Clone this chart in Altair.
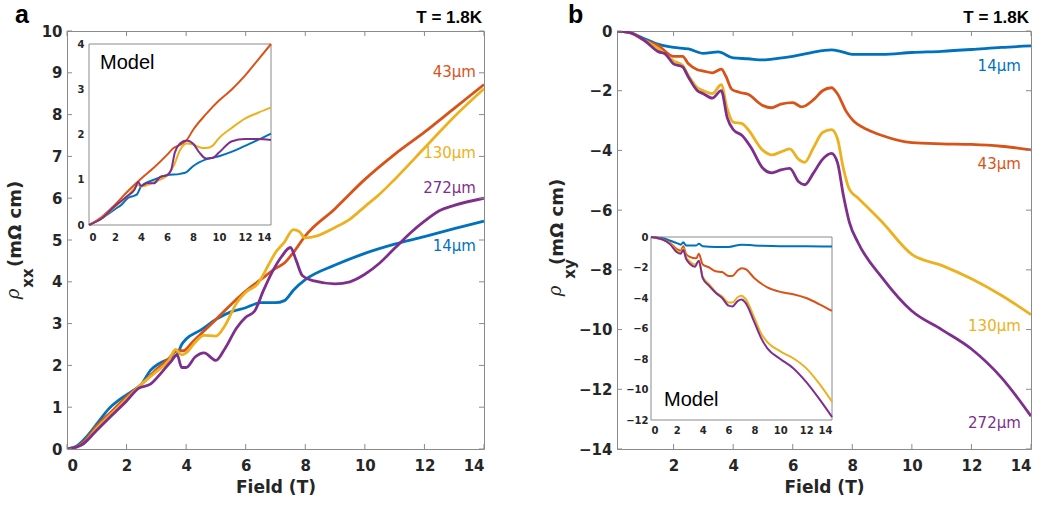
import altair as alt
import pandas as pd

SERIES = ["14μm", "43μm", "130μm", "272μm"]
COLORS = ["#0072BD", "#D95319", "#EDB120", "#7E2F8E"]
FRAME = "#8a8a8a"
TXT = "#262626"

# ---------------- panel a : measured rho_xx (mOhm cm) vs field (T)
a14_x = [0, 0.3, 0.6, 1.0, 1.4, 1.8, 2.2, 2.5, 2.8, 3.1, 3.4, 3.7, 3.85, 4.0, 4.5, 5.0, 5.5, 6.0, 6.5, 7.0, 7.3, 7.6, 8.0, 9.0, 10.0, 11.0, 12.0, 13.0, 14.0]
a14_y = [0, 0.06, 0.25, 0.6, 0.96, 1.2, 1.39, 1.55, 1.88, 2.05, 2.15, 2.27, 2.5, 2.63, 2.85, 3.1, 3.28, 3.38, 3.5, 3.5, 3.55, 3.8, 4.05, 4.4, 4.68, 4.9, 5.08, 5.27, 5.45]
a43_x = [0, 0.3, 0.6, 1.0, 1.5, 2.0, 2.5, 3.0, 3.4, 3.7, 3.9, 4.2, 5.0, 6.0, 6.5, 7.0, 7.3, 7.6, 8.0, 9.0, 10.0, 11.0, 12.0, 13.0, 14.0]
a43_y = [0, 0.04, 0.2, 0.55, 0.9, 1.25, 1.55, 1.9, 2.15, 2.35, 2.35, 2.55, 3.1, 3.78, 4.05, 4.32, 4.45, 4.7, 5.1, 5.75, 6.45, 7.05, 7.58, 8.15, 8.72]
a130_x = [0, 0.5, 1.0, 1.5, 2.0, 2.5, 3.0, 3.4, 3.65, 3.85, 4.0, 4.3, 4.6, 5.0, 5.3, 5.7, 6.0, 6.4, 6.8, 7.0, 7.3, 7.6, 7.8, 8.0, 8.4, 9.0, 9.5, 10.0, 10.5, 11.0, 12.0, 13.0, 14.0]
a130_y = [0, 0.1, 0.5, 0.85, 1.2, 1.55, 1.85, 2.1, 2.38, 2.25, 2.3, 2.55, 2.72, 2.7, 2.95, 3.5, 3.75, 3.95, 4.45, 4.7, 4.95, 5.25, 5.2, 5.05, 5.1, 5.3, 5.5, 5.8, 6.1, 6.45, 7.2, 7.95, 8.62]
a272_x = [0, 0.5, 1.0, 1.5, 2.0, 2.4, 2.8, 3.2, 3.5, 3.7, 3.85, 4.0, 4.3, 4.6, 5.0, 5.3, 5.7, 6.0, 6.3, 6.6, 6.9, 7.2, 7.5, 7.7, 7.9, 8.3, 9.0, 9.5, 10.0, 10.5, 11.0, 11.5, 12.0, 12.5, 13.0, 14.0]
a272_y = [0, 0.1, 0.45, 0.8, 1.15, 1.45, 1.55, 1.85, 2.1, 2.25, 1.95, 1.95, 2.2, 2.3, 2.12, 2.4, 2.9, 3.15, 3.3, 3.8, 4.25, 4.6, 4.82, 4.5, 4.15, 4.02, 3.95, 4.0, 4.18, 4.45, 4.8, 5.15, 5.45, 5.7, 5.83, 6.0]

# ---------------- panel a inset : model rho_xx
ia14_x = [0, 1, 2, 2.5, 3, 3.5, 3.7, 4, 5, 6, 7, 7.5, 8, 9, 10, 11, 12, 13, 14]
ia14_y = [0, 0.15, 0.35, 0.45, 0.6, 0.65, 0.68, 0.85, 1.0, 1.1, 1.13, 1.17, 1.3, 1.45, 1.52, 1.62, 1.75, 1.88, 2.02]
ia43_x = [0, 1, 2, 3, 4, 5, 6, 6.5, 7, 7.5, 8, 9, 10, 11, 12, 13, 14]
ia43_y = [0, 0.18, 0.45, 0.75, 1.02, 1.27, 1.55, 1.7, 1.77, 1.87, 2.1, 2.45, 2.75, 3.0, 3.3, 3.65, 4.0]
ia130_x = [0, 1, 2, 3, 3.8, 4, 5, 6, 6.5, 7, 7.5, 8, 8.5, 9, 9.5, 10, 11, 12, 13, 14]
ia130_y = [0, 0.15, 0.4, 0.65, 0.88, 0.85, 0.95, 1.1, 1.3, 1.65, 1.8, 1.78, 1.72, 1.7, 1.75, 1.92, 2.15, 2.35, 2.48, 2.6]
ia272_x = [0, 1, 2, 3, 3.5, 3.8, 4, 4.5, 5, 5.5, 6, 6.3, 6.6, 7, 7.5, 8, 8.5, 9, 9.5, 10, 11, 12, 13, 14]
ia272_y = [0, 0.15, 0.42, 0.65, 0.78, 0.95, 0.86, 0.93, 0.92, 1.07, 1.1, 1.2, 1.6, 1.8, 1.87, 1.8, 1.6, 1.47, 1.48, 1.6, 1.85, 1.9, 1.9, 1.88]

# ---------------- panel b : measured rho_xy
b14_x = [0, 0.5, 1.0, 1.5, 2.0, 2.5, 3.0, 3.5, 4.0, 4.5, 5.0, 5.5, 6.0, 6.5, 7.0, 7.3, 7.6, 8.0, 9.0, 10.0, 11.0, 12.0, 13.0, 14.0]
b14_y = [0, -0.05, -0.25, -0.45, -0.55, -0.6, -0.75, -0.7, -0.9, -0.93, -0.97, -0.92, -0.85, -0.75, -0.66, -0.63, -0.68, -0.78, -0.78, -0.72, -0.68, -0.62, -0.55, -0.5]
b43_x = [0, 0.5, 1.0, 1.5, 2.0, 2.3, 2.5, 2.8, 3.0, 3.3, 3.6, 3.75, 3.95, 4.2, 4.5, 5.0, 5.3, 5.6, 6.0, 6.3, 6.7, 7.0, 7.3, 7.5, 7.8, 8.0, 8.5, 9.0, 10.0, 11.0, 12.0, 13.0, 14.0]
b43_y = [0, -0.05, -0.3, -0.5, -0.85, -0.85, -1.1, -1.3, -1.34, -1.4, -1.28, -1.5, -1.95, -2.05, -2.12, -2.5, -2.57, -2.45, -2.4, -2.54, -2.3, -2.0, -1.9, -2.1, -2.7, -2.97, -3.3, -3.5, -3.74, -3.78, -3.8, -3.86, -3.98]
b130_x = [0, 0.5, 1.0, 1.5, 2.0, 2.3, 2.5, 2.8, 3.0, 3.3, 3.6, 3.8, 4.0, 4.3, 4.5, 5.0, 5.3, 5.6, 5.9, 6.2, 6.4, 6.7, 7.0, 7.3, 7.5, 7.7, 7.9, 8.2, 9.0, 10.0, 11.0, 12.0, 13.0, 14.0]
b130_y = [0, -0.05, -0.3, -0.6, -1.0, -1.15, -1.5, -1.9, -2.0, -2.1, -1.8, -2.6, -3.05, -3.1, -3.3, -4.0, -4.15, -4.05, -3.95, -4.3, -4.4, -3.9, -3.4, -3.3, -3.6, -4.6, -5.3, -5.6, -6.4, -7.48, -7.85, -8.3, -8.85, -9.5]
b272_x = [0, 0.5, 1.0, 1.5, 1.7, 2.0, 2.3, 2.5, 2.8, 3.0, 3.3, 3.6, 3.8, 4.0, 4.3, 4.6, 5.0, 5.3, 5.6, 5.9, 6.2, 6.4, 6.7, 7.0, 7.3, 7.5, 7.7, 7.9, 8.2, 9.0, 10.0, 11.0, 12.0, 13.0, 14.0]
b272_y = [0, -0.05, -0.3, -0.7, -0.75, -1.1, -1.2, -1.55, -2.0, -2.1, -2.25, -2.0, -2.9, -3.3, -3.5, -3.9, -4.6, -4.75, -4.65, -4.6, -5.05, -5.15, -4.75, -4.3, -4.1, -4.4, -5.5, -6.4, -7.1, -8.26, -9.38, -10.0, -10.65, -11.6, -12.9]

# ---------------- panel b inset : model rho_xy
ib14_x = [0, 1, 1.5, 2, 2.3, 2.5, 2.7, 3.5, 3.7, 4, 5, 6, 7, 8, 10, 12, 14]
ib14_y = [0, -0.1, -0.25, -0.4, -0.5, -0.35, -0.55, -0.55, -0.45, -0.6, -0.65, -0.65, -0.5, -0.55, -0.6, -0.6, -0.62]
ib43_x = [0, 1, 1.5, 2, 2.3, 2.5, 2.7, 3, 3.5, 3.7, 4, 4.5, 5, 5.5, 6, 6.3, 6.7, 7, 7.3, 8, 9, 10, 11, 12, 13, 14]
ib43_y = [0, -0.2, -0.4, -0.8, -0.9, -0.6, -1.1, -1.3, -1.4, -1.1, -1.8, -2.0, -2.25, -2.3, -2.55, -2.55, -2.2, -2.05, -2.1, -2.7, -3.3, -3.6, -3.75, -4.0, -4.4, -4.85]
ib130_x = [0, 1, 1.5, 2, 2.3, 2.5, 2.7, 3, 3.4, 3.7, 4, 4.5, 5, 5.5, 6, 6.3, 6.7, 7, 7.3, 8, 8.5, 9, 10, 11, 12, 13, 14]
ib130_y = [0, -0.2, -0.45, -0.9, -1.0, -0.75, -1.3, -1.6, -1.8, -1.6, -2.6, -3.1, -3.6, -3.9, -4.3, -4.3, -3.95, -3.85, -4.05, -5.3, -6.3, -6.9, -7.5, -7.95, -8.6, -9.6, -10.8]
ib272_x = [0, 1, 1.5, 2, 2.3, 2.5, 2.7, 3, 3.4, 3.7, 4, 4.5, 5, 5.5, 6, 6.3, 6.7, 7, 7.3, 8, 8.5, 9, 10, 11, 12, 13, 14]
ib272_y = [0, -0.2, -0.5, -1.0, -1.1, -0.85, -1.4, -1.75, -1.95, -1.55, -2.7, -3.2, -3.65, -4.0, -4.5, -4.55, -4.2, -4.1, -4.3, -5.6, -6.6, -7.3, -8.0, -8.6, -9.5, -10.6, -11.8]

# series name labels (data units of each main panel)
a_lab_x = [13.73, 13.73, 13.73, 13.73]
a_lab_y = [4.74, 8.9, 6.96, 6.12]
b_lab_x = [13.66, 13.66, 13.66, 13.66]
b_lab_y = [-1.34, -4.62, -10.05, -13.3]

A_XTICKS = [0, 2, 4, 6, 8, 10, 12, 14]
A_YTICKS = list(range(0, 11))
B_XTICKS = [2, 4, 6, 8, 10, 12, 14]
B_YTICKS = [0, -2, -4, -6, -8, -10, -12, -14]
I_XTICKS = [0, 2, 4, 6, 8, 10, 12, 14]
IA_YTICKS = [0, 1, 2, 3, 4]
IB_YTICKS = [0, -2, -4, -6, -8, -10, -12]


def long(pairs):
    rows = []
    for name, (xs, ys) in zip(SERIES, pairs):
        for x, y in zip(xs, ys):
            rows.append({"F": x, "v": y, "s": name})
    return pd.DataFrame(rows)


COLOR = alt.Color("s:N", scale=alt.Scale(domain=SERIES, range=COLORS), legend=None)
AX_STYLE = dict(labelFont="DejaVu Sans", labelFontWeight="bold", labelColor=TXT,
                titleFont="DejaVu Sans", titleFontWeight="bold", titleFontSize=17,
                titleColor=TXT, ticks=False, domain=False, grid=False)


def ann(text, x, y, size, weight="normal", align="left", font="DejaVu Sans",
        angle=0, style="normal", color=TXT):
    return alt.Chart(pd.DataFrame({"t": [text]})).mark_text(
        align=align, baseline="alphabetic", fontSize=size, fontWeight=weight,
        font=font, angle=angle, fontStyle=style, color=color
    ).encode(x=alt.value(x), y=alt.value(y), text="t:N")


# centres (along the vertical) of the rotated y-title pieces: rho, subscript, units
YT_CENTRES = {"a": (263, 247, 193), "b": (260, 238, 191)}


def panel(W, H, xdom, ydom, xticks, yticks, lines_df, lab_df, letter, sub,
          B, inset_df, ixrange, iyrange, iydom, iyticks, model_xy, ilabpad):
    xs = alt.Scale(domain=xdom, nice=False, zero=False)
    ys = alt.Scale(domain=ydom, nice=False, zero=False)
    XA = alt.Axis(values=xticks, title="Field (T)", orient="bottom", labelPadding=9,
                  titlePadding=6, labelFontSize=15, **AX_STYLE)
    YA = alt.Axis(values=yticks, title=None, orient="left", labelPadding=5,
                  labelFontSize=15, **AX_STYLE)
    X = alt.X("F:Q", scale=xs, axis=XA)
    Y = alt.Y("v:Q", scale=ys, axis=YA)
    lines = alt.Chart(lines_df).mark_line(
        strokeWidth=2.8, interpolate="monotone", clip=True
    ).encode(x=X, y=Y, color=COLOR)
    xt = pd.DataFrame({"F": xticks})
    yt = pd.DataFrame({"v": yticks})
    tb = alt.Chart(xt).mark_rule(color=FRAME).encode(x=X, y=alt.value(H), y2=alt.value(H - 5))
    tt = alt.Chart(xt).mark_rule(color=FRAME).encode(x=X, y=alt.value(0), y2=alt.value(5))
    tl = alt.Chart(yt).mark_rule(color=FRAME).encode(y=Y, x=alt.value(0), x2=alt.value(5))
    tr = alt.Chart(yt).mark_rule(color=FRAME).encode(y=Y, x=alt.value(W), x2=alt.value(W - 5))
    labels = alt.Chart(lab_df).mark_text(
        align="right", baseline="alphabetic", fontSize=15, font="DejaVu Sans"
    ).encode(x=X, y=Y, text="s:N", color=COLOR)
    yc = YT_CENTRES[letter]
    notes = [
        ann(letter, -52 if letter == "a" else -49, -8, 25, "bold", font="Liberation Sans", color="black"),
        ann("T = 1.8K", W - 2, -8, 17, "bold", align="right", font="Liberation Sans", color="black"),
        ann("ρ", B - 2, yc[0], 18, align="center", font="DejaVu Serif", angle=270, style="italic"),
        ann(sub, B + 12, yc[1], 15, "bold", align="center", angle=270),
        ann("(mΩ cm)", B, yc[2], 18, "bold", align="center", angle=270),
    ]
    main = alt.layer(lines, tb, tt, tl, tr, labels, *notes)

    ixs = alt.Scale(domain=[0, 14], range=ixrange, nice=False, zero=False)
    iys = alt.Scale(domain=iydom, range=iyrange, nice=False, zero=False)
    IXA = alt.Axis(values=I_XTICKS, title=None, orient="bottom",
                   offset=-(H - iyrange[0]), labelPadding=ilabpad[0],
                   labelFontSize=10, **AX_STYLE)
    IYA = alt.Axis(values=iyticks, title=None, orient="left", offset=-ixrange[0],
                   labelPadding=ilabpad[1], labelFontSize=10, **AX_STYLE)
    IX = alt.X("F:Q", scale=ixs, axis=IXA)
    IY = alt.Y("v:Q", scale=iys, axis=IYA)
    frame = alt.Chart(pd.DataFrame({"F": [0], "F2": [14], "v": [iydom[0]], "v2": [iydom[1]]})).mark_rect(
        fill="white", stroke=FRAME, strokeWidth=1
    ).encode(x=IX, x2="F2:Q", y=IY, y2="v2:Q")
    ilines = alt.Chart(inset_df).mark_line(strokeWidth=2, interpolate="monotone").encode(
        x=IX, y=IY, color=COLOR)
    model = ann("Model", model_xy[0], model_xy[1], 20, font="Liberation Sans", color="black")
    inset = alt.layer(frame, ilines, model)
    return alt.layer(main, inset).resolve_scale(x="independent", y="independent").properties(
        width=W, height=H)


df_a = long([(a14_x, a14_y), (a43_x, a43_y), (a130_x, a130_y), (a272_x, a272_y)])
df_ia = long([(ia14_x, ia14_y), (ia43_x, ia43_y), (ia130_x, ia130_y), (ia272_x, ia272_y)])
df_b = long([(b14_x, b14_y), (b43_x, b43_y), (b130_x, b130_y), (b272_x, b272_y)])
df_ib = long([(ib14_x, ib14_y), (ib43_x, ib43_y), (ib130_x, ib130_y), (ib272_x, ib272_y)])
lab_a = pd.DataFrame({"F": a_lab_x, "v": a_lab_y, "s": SERIES})
lab_b = pd.DataFrame({"F": b_lab_x, "v": b_lab_y, "s": SERIES})

pa = panel(417, 418, [0, 14], [0, 10], A_XTICKS, A_YTICKS, df_a, lab_a, "a", "xx", -46,
           df_ia, [22, 204], [194, 13], [0, 4], IA_YTICKS, (33, 38), (7, 5))
pb = panel(414, 418, [0.1, 14], [-14, 0], B_XTICKS, B_YTICKS, df_b, lab_b, "b", "xy", -54,
           df_ib, [34, 215], [389, 206], [-12, 0], IB_YTICKS, (47, 375), (5, 3))

chart = alt.hconcat(pa, pb, spacing=61).properties(
    padding={"left": 4, "top": 2, "right": 0, "bottom": 0}
).configure(background="white").configure_view(
    stroke=FRAME, strokeWidth=1
)

chart.save("out.html", embed_options={"renderer": "svg", "actions": False})
